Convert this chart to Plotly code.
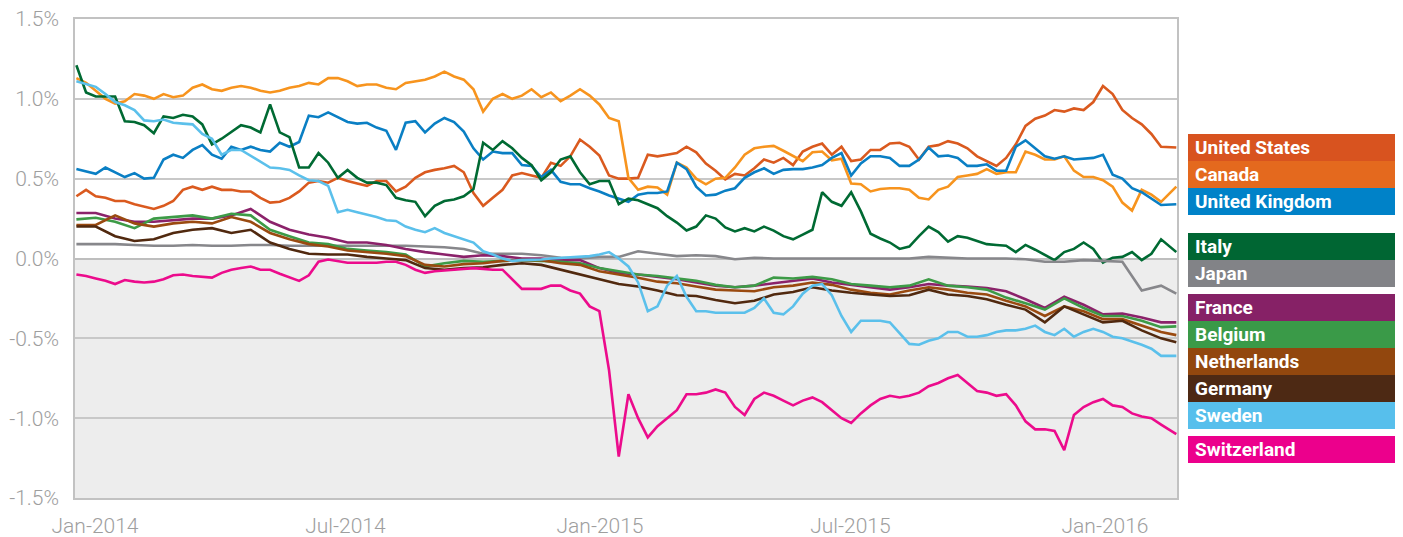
import pandas as pd
import plotly.graph_objects as go

# ---- data: 2-year government bond yields (%) ----
# weekly samples from 2014-01-02 (113 obs) plus last obs 2016-03-07 for the more volatile series
dates_weekly = list(pd.date_range("2014-01-02", periods=113, freq="7D")) + [pd.Timestamp("2016-03-07")]
# fortnightly samples for the tightly packed euro-area / Japan series
dates_biweekly = list(pd.date_range("2014-01-02", periods=57, freq="14D")) + [pd.Timestamp("2016-03-07")]

us = [0.39, 0.43, 0.39, 0.38, 0.36, 0.36, 0.34, 0.325, 0.31, 0.33, 0.36, 0.43, 0.45, 0.43, 0.45, 0.43,
      0.43, 0.42, 0.42, 0.38, 0.35, 0.355, 0.38, 0.42, 0.475, 0.485, 0.475, 0.505, 0.485,
      0.47, 0.455, 0.485, 0.485, 0.42, 0.45, 0.505, 0.54, 0.555, 0.565, 0.58, 0.54, 0.41, 0.33,
      0.38, 0.43, 0.52, 0.535, 0.52, 0.505, 0.60, 0.58, 0.64, 0.745, 0.70, 0.645, 0.52, 0.50,
      0.50, 0.505, 0.65, 0.64, 0.65, 0.66, 0.70, 0.665, 0.595, 0.55, 0.495, 0.53, 0.52, 0.565,
      0.62, 0.60, 0.63, 0.585, 0.67, 0.70, 0.72, 0.65, 0.70, 0.61, 0.62, 0.68, 0.68, 0.72, 0.725,
      0.70, 0.62, 0.70, 0.71, 0.735, 0.72, 0.69, 0.64, 0.61, 0.58, 0.63, 0.715, 0.83, 0.875,
      0.895, 0.93, 0.92, 0.94, 0.93, 0.98, 1.08, 1.03, 0.93, 0.88, 0.84, 0.78, 0.70, 0.695]
canada = [1.13, 1.10, 1.05, 1.00, 0.97, 0.985, 1.03, 1.02, 1.00, 1.03, 1.01, 1.02, 1.07, 1.09, 1.06,
          1.05, 1.07, 1.08, 1.07, 1.05, 1.04, 1.05, 1.07, 1.08, 1.10, 1.09, 1.13, 1.13, 1.11,
          1.08, 1.09, 1.09, 1.07, 1.06, 1.10, 1.11, 1.12, 1.14, 1.17, 1.14, 1.12, 1.06, 0.92,
          1.00, 1.03, 1.00, 1.02, 1.06, 1.01, 1.04, 0.985, 1.02, 1.06, 1.02, 0.965, 0.88, 0.86,
          0.505, 0.43, 0.45, 0.445, 0.40, 0.60, 0.57, 0.50, 0.465, 0.50, 0.505, 0.57, 0.65, 0.69,
          0.70, 0.705, 0.675, 0.64, 0.61, 0.665, 0.67, 0.615, 0.625, 0.47, 0.465, 0.42, 0.435, 0.44, 0.44,
          0.43, 0.38, 0.37, 0.43, 0.45, 0.51, 0.52, 0.53, 0.56, 0.53, 0.54, 0.54, 0.67, 0.65,
          0.62, 0.62, 0.64, 0.55, 0.51, 0.51, 0.49, 0.45, 0.35, 0.30, 0.43, 0.40, 0.355, 0.45]
uk = [0.56, 0.545, 0.53, 0.57, 0.54, 0.51, 0.535, 0.50, 0.505, 0.62, 0.65, 0.63, 0.68, 0.71, 0.65,
      0.625, 0.70, 0.68, 0.70, 0.68, 0.67, 0.725, 0.70, 0.73, 0.895, 0.885, 0.915, 0.885, 0.855,
      0.845, 0.85, 0.82, 0.80, 0.68, 0.85, 0.86, 0.79, 0.845, 0.88, 0.855, 0.795, 0.69, 0.62,
      0.67, 0.66, 0.66, 0.585, 0.58, 0.51, 0.555, 0.48, 0.465, 0.465, 0.44, 0.42, 0.395, 0.375,
      0.355, 0.40, 0.41, 0.41, 0.42, 0.60, 0.56, 0.45, 0.395, 0.40, 0.425, 0.44, 0.505, 0.54,
      0.565, 0.53, 0.555, 0.56, 0.56, 0.57, 0.585, 0.63, 0.66, 0.52, 0.595, 0.64, 0.64, 0.63, 0.58,
      0.58, 0.62, 0.695, 0.64, 0.645, 0.63, 0.58, 0.58, 0.59, 0.55, 0.55, 0.70, 0.74, 0.69,
      0.64, 0.625, 0.64, 0.62, 0.625, 0.63, 0.65, 0.525, 0.50, 0.44, 0.415, 0.375, 0.335, 0.34]
italy = [1.21, 1.04, 1.015, 1.015, 1.015, 0.86, 0.855, 0.835, 0.785, 0.89, 0.88, 0.90, 0.89, 0.84, 0.715,
         0.75, 0.79, 0.835, 0.82, 0.79, 0.965, 0.79, 0.76, 0.57, 0.57, 0.66, 0.60, 0.505, 0.555,
         0.505, 0.475, 0.475, 0.46, 0.38, 0.365, 0.355, 0.265, 0.33, 0.36, 0.37, 0.39, 0.435, 0.725,
         0.68, 0.735, 0.69, 0.63, 0.585, 0.49, 0.54, 0.62, 0.64, 0.54, 0.465, 0.485, 0.485, 0.34,
         0.375, 0.365, 0.34, 0.315, 0.265, 0.225, 0.175, 0.20, 0.27, 0.25, 0.195, 0.17, 0.19, 0.17,
         0.20, 0.175, 0.14, 0.12, 0.15, 0.18, 0.415, 0.355, 0.33, 0.415, 0.295, 0.155, 0.125, 0.10, 0.06,
         0.075, 0.14, 0.20, 0.165, 0.105, 0.14, 0.13, 0.11, 0.09, 0.085, 0.08, 0.04, 0.085, 0.055,
         0.02, -0.01, 0.04, 0.06, 0.10, 0.06, -0.025, 0.005, 0.01, 0.04, -0.01, 0.03, 0.12, 0.04]
sweden = [1.11, 1.09, 1.075, 1.03, 0.98, 0.96, 0.93, 0.865, 0.86, 0.87, 0.85, 0.845, 0.84, 0.78, 0.75,
          0.65, 0.68, 0.68, 0.645, 0.61, 0.57, 0.565, 0.555, 0.52, 0.49, 0.485, 0.455, 0.29, 0.305,
          0.29, 0.275, 0.26, 0.24, 0.235, 0.20, 0.18, 0.165, 0.19, 0.16, 0.14, 0.12, 0.10, 0.045,
          0.025, 0.0, -0.015, -0.01, -0.01, -0.006, 0.0, 0.004, 0.004, 0.01, 0.015, 0.025, 0.04, 0.0,
          -0.05, -0.15, -0.33, -0.30, -0.17, -0.11, -0.24, -0.33, -0.33, -0.34, -0.34, -0.34, -0.34, -0.31,
          -0.25, -0.34, -0.35, -0.30, -0.22, -0.17, -0.16, -0.23, -0.36, -0.46, -0.39, -0.39, -0.39, -0.40, -0.47,
          -0.535, -0.54, -0.515, -0.50, -0.46, -0.46, -0.49, -0.49, -0.48, -0.46, -0.45, -0.45, -0.44, -0.42,
          -0.46, -0.48, -0.44, -0.49, -0.46, -0.44, -0.46, -0.49, -0.50, -0.52, -0.54, -0.565, -0.61, -0.61]
switzerland = [-0.10, -0.11, -0.125, -0.14, -0.16, -0.135, -0.145, -0.15, -0.145, -0.13, -0.105, -0.10,
               -0.11, -0.115, -0.12, -0.09, -0.07, -0.06, -0.05, -0.07, -0.07, -0.095, -0.12, -0.14,
               -0.105, -0.02, -0.006, -0.015, -0.027,
               -0.027, -0.027, -0.027, -0.02, -0.02, -0.04, -0.07, -0.09, -0.08, -0.075, -0.07, -0.065,
               -0.06, -0.065, -0.07, -0.07, -0.13, -0.19, -0.19, -0.19, -0.17, -0.17, -0.20, -0.22,
               -0.30, -0.33, -0.70, -1.24,
               -0.85, -1.00, -1.12, -1.05, -1.00, -0.95, -0.85, -0.85, -0.84, -0.82, -0.84, -0.93, -0.98,
               -0.88, -0.84, -0.86, -0.89, -0.92, -0.89, -0.87, -0.90, -0.95, -1.00, -1.03, -0.97, -0.92,
               -0.88, -0.86, -0.87,
               -0.86, -0.84, -0.80, -0.78, -0.75, -0.73, -0.78, -0.83, -0.84, -0.86, -0.85, -0.92, -1.02,
               -1.07, -1.07, -1.08, -1.20, -0.98, -0.93, -0.90, -0.88, -0.92, -0.93, -0.97, -0.99, -1.00,
               -1.04, -1.10]

japan = [0.09, 0.09, 0.09, 0.085, 0.08, 0.08, 0.085, 0.08, 0.08, 0.085, 0.085, 0.08, 0.08, 0.08, 0.08,
         0.08, 0.08, 0.08, 0.075, 0.07, 0.06, 0.03, 0.03, 0.03, 0.02, 0.005, 0.00, 0.01, 0.01,
         0.045, 0.03, 0.015, 0.02, 0.015, -0.005, 0.005, 0.00, 0.00, 0.00, 0.00, 0.00, 0.00, 0.00,
         0.00, 0.01, 0.005, 0.00, 0.00, 0.00, -0.005, -0.02, -0.02, -0.01, -0.015, -0.02, -0.20, -0.17, -0.22]
france = [0.285, 0.285, 0.25, 0.23, 0.23, 0.24, 0.25, 0.25, 0.27, 0.31, 0.23, 0.18, 0.15, 0.13, 0.10,
          0.10, 0.085, 0.06, 0.04, 0.025, 0.01, 0.02, 0.015, 0.00, 0.00, -0.01, -0.01, -0.06, -0.09,
          -0.10, -0.115, -0.13, -0.15, -0.17, -0.18, -0.17, -0.155, -0.14, -0.125, -0.15, -0.165, -0.18, -0.195,
          -0.18, -0.16, -0.17, -0.175, -0.185, -0.205, -0.255, -0.31, -0.24, -0.29, -0.35, -0.345, -0.37, -0.40, -0.40]
belgium = [0.245, 0.255, 0.23, 0.19, 0.25, 0.26, 0.27, 0.25, 0.28, 0.27, 0.18, 0.14, 0.10, 0.09, 0.06,
           0.05, 0.04, 0.025, -0.05, -0.03, -0.015, -0.02, -0.015, -0.01, -0.015, -0.02, -0.03, -0.06, -0.08,
           -0.10, -0.11, -0.125, -0.14, -0.165, -0.18, -0.17, -0.12, -0.125, -0.115, -0.13, -0.16, -0.17, -0.18,
           -0.17, -0.13, -0.17, -0.18, -0.195, -0.245, -0.28, -0.32, -0.25, -0.31, -0.36, -0.36, -0.39, -0.43, -0.425]
netherlands = [0.21, 0.21, 0.27, 0.22, 0.20, 0.22, 0.23, 0.22, 0.26, 0.23, 0.16, 0.12, 0.09, 0.075, 0.05,
               0.04, 0.03, 0.015, -0.04, -0.05, -0.035, -0.03, -0.015, -0.01, -0.01, -0.03, -0.04, -0.08, -0.10,
               -0.12, -0.145, -0.155, -0.175, -0.195, -0.20, -0.205, -0.18, -0.17, -0.15, -0.165, -0.195, -0.215, -0.225,
               -0.20, -0.18, -0.195, -0.215, -0.225, -0.265, -0.30, -0.36, -0.30, -0.33, -0.38, -0.38, -0.42, -0.46, -0.48]
germany = [0.20, 0.20, 0.14, 0.11, 0.12, 0.16, 0.18, 0.19, 0.16, 0.18, 0.10, 0.06, 0.03, 0.025, 0.025,
           0.01, 0.00, -0.01, -0.06, -0.07, -0.06, -0.055, -0.04, -0.03, -0.04, -0.07, -0.10, -0.13, -0.16,
           -0.175, -0.20, -0.23, -0.235, -0.26, -0.28, -0.265, -0.225, -0.21, -0.18, -0.20, -0.215, -0.225, -0.235,
           -0.23, -0.195, -0.225, -0.235, -0.255, -0.29, -0.32, -0.40, -0.30, -0.35, -0.40, -0.39, -0.45, -0.50, -0.525]

names = ["United States", "Canada", "United Kingdom", "Italy", "Japan", "France",
         "Belgium", "Netherlands", "Germany", "Sweden", "Switzerland"]
series = [us, canada, uk, italy, japan, france, belgium, netherlands, germany, sweden, switzerland]
series_dates = [dates_weekly, dates_weekly, dates_weekly, dates_weekly, dates_biweekly, dates_biweekly,
                dates_biweekly, dates_biweekly, dates_biweekly, dates_weekly, dates_weekly]
line_colors = ["#DA5A1F", "#F7941E", "#0A7FC4", "#006A33", "#87878B", "#8B226A",
               "#3D9B47", "#9A4A10", "#51290F", "#5BC0EB", "#EC0B8C"]
box_colors = ["#D8531F", "#E4691E", "#0082C8", "#006633", "#828387", "#862166",
              "#3A9A48", "#92470E", "#4D2914", "#57BFEC", "#EC008C"]
legend_groups = [0, 0, 0, 1, 1, 2, 2, 2, 2, 2, 3]

y_ticks = [-1.5, -1.0, -0.5, 0.0, 0.5, 1.0, 1.5]
y_ticktext = ["-1.5%", "-1.0%", "-0.5%", "0.0%", "0.5%", "1.0%", "1.5%"]
x_ticks = ["2014-01-01", "2014-07-01", "2015-01-01", "2015-07-01", "2016-01-01"]
x_ticktext = ["Jan-2014", "Jul-2014", "Jan-2015", "Jul-2015", "Jan-2016"]

for n, s, d in zip(names, series, series_dates):
    assert len(s) == len(d), (n, len(s), len(d))

FONT = "Roboto, Arial, sans-serif"
TICKFONT = dict(family=FONT, size=21, color="#9E9E9E", weight=300)

fig = go.Figure()
for name, vals, d, col in zip(names, series, series_dates, line_colors):
    fig.add_trace(go.Scatter(x=d, y=vals, mode="lines", name=name,
                             line=dict(color=col, width=2.6), showlegend=False))

# The page body has an 8px default margin, so the figure is sized 8px smaller.
W, H = 1395, 529
L, R, T, B = 67, 226, 11, 39
plot_w, plot_h = W - L - R, H - T - B
OFF = 8  # page offset, used to convert reference pixels to figure pixels

# negative region shading
fig.add_shape(type="rect", xref="paper", yref="y", x0=0, x1=1, y0=-1.5, y1=0,
              fillcolor="#EDEDED", line=dict(width=0), layer="below")

# legend boxes (custom, right side); positions in reference-page pixels
box_left, box_right, box_h = 1188, 1403, 27
group_tops = [134, 233, 294, 436]
px = lambda v: (v - OFF - L) / plot_w
py = lambda v: (H - B - (v - OFF)) / plot_h
counts = {}
for name, bc, g in zip(names, box_colors, legend_groups):
    idx = counts.get(g, 0)
    counts[g] = idx + 1
    top = group_tops[g] + idx * box_h
    bot = top + box_h
    fig.add_shape(type="rect", xref="paper", yref="paper",
                  x0=px(box_left), x1=px(box_right), y0=py(bot), y1=py(top),
                  fillcolor=bc, line=dict(width=0))
    fig.add_annotation(xref="paper", yref="paper", x=px(box_left + 5), y=py((top + bot) / 2),
                       text="<b>%s</b>" % name, showarrow=False, xanchor="left", yanchor="middle",
                       font=dict(family=FONT, size=19, color="white"))

fig.update_layout(
    width=W, height=H,
    margin=dict(l=L, r=R, t=T, b=B, pad=0, autoexpand=False),
    paper_bgcolor="white", plot_bgcolor="white",
    font=dict(family=FONT, color="#9E9E9E", size=19),
)
fig.update_xaxes(
    type="date", range=["2014-01-01", "2016-03-07 12:00"], automargin=False,
    tickvals=x_ticks, ticktext=x_ticktext, ticks="", showgrid=False,
    ticklabelshift=20, ticklabelstandoff=8, ticklabeloverflow="allow",
    showline=True, mirror=True, linecolor="#C2C2C2", linewidth=1.5,
    tickfont=TICKFONT, zeroline=False,
)
fig.update_yaxes(
    range=[-1.5, 1.5], tickvals=y_ticks, ticktext=y_ticktext, ticks="", automargin=False,
    showgrid=True, gridcolor="#C8C8C8", gridwidth=1.5,
    zeroline=True, zerolinecolor="#BEBEBE", zerolinewidth=2,
    showline=True, mirror=True, linecolor="#C2C2C2", linewidth=1.5,
    ticklabelstandoff=10, ticklabeloverflow="allow",
    tickfont=TICKFONT,
)

fig.write_html("out.html")
